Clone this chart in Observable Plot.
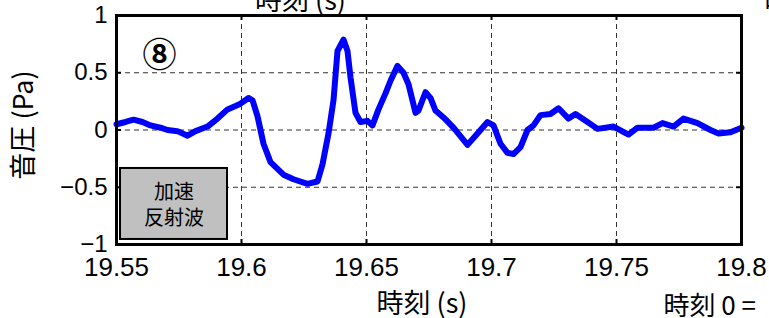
<!DOCTYPE html>
<html>
<head>
<meta charset="utf-8">
<script src="https://cdn.jsdelivr.net/npm/d3@7"></script>
<script src="https://cdn.jsdelivr.net/npm/@observablehq/plot@0.6"></script>
<style>
  html, body { margin: 0; padding: 0; background: white; }
  #chart { width: 769px; height: 318px; overflow: hidden; }
</style>
</head>
<body>
<div id="chart"></div>
<script>
// Time (s)
const times = [
  19.5500, 19.5536, 19.5568, 19.5604, 19.5636, 19.5676, 19.5704, 19.5744, 19.5784, 19.5816,
  19.5864, 19.5904, 19.5944, 19.5976, 19.5996, 19.6028, 19.6044, 19.6064, 19.6088, 19.6116,
  19.6168, 19.6208, 19.6264, 19.6304, 19.6324, 19.6348, 19.6368, 19.6384, 19.6408, 19.6424,
  19.6436, 19.6456, 19.6476, 19.6504, 19.6524, 19.6548, 19.6576, 19.6596, 19.6624, 19.6648,
  19.6668, 19.6696, 19.6708, 19.6736, 19.6756, 19.6776, 19.6808, 19.6848, 19.6904, 19.6944,
  19.6984, 19.7008, 19.7036, 19.7064, 19.7088, 19.7116, 19.7144, 19.7168, 19.7196, 19.7236,
  19.7268, 19.7308, 19.7336, 19.7384, 19.7424, 19.7488, 19.7548, 19.7584, 19.7648, 19.7684,
  19.7728, 19.7768, 19.7824, 19.7876, 19.7908, 19.7956, 19.8000
];
// Sound pressure (Pa)
const pressure = [
  0.05, 0.07, 0.09, 0.07, 0.04, 0.02, 0.00, -0.01, -0.05, -0.01,
  0.03, 0.10, 0.18, 0.21, 0.23, 0.28, 0.26, 0.12, -0.12, -0.28,
  -0.39, -0.43, -0.47, -0.45, -0.30, -0.03, 0.26, 0.69, 0.79, 0.69,
  0.46, 0.15, 0.07, 0.08, 0.04, 0.18, 0.32, 0.43, 0.56, 0.50,
  0.40, 0.15, 0.17, 0.33, 0.28, 0.17, 0.11, 0.02, -0.13, -0.03,
  0.07, 0.04, -0.12, -0.20, -0.21, -0.15, 0.00, 0.04, 0.13, 0.14,
  0.19, 0.10, 0.14, 0.07, 0.01, 0.03, -0.04, 0.02, 0.02, 0.06,
  0.03, 0.10, 0.06, 0.00, -0.03, -0.02, 0.02
];
const xTicks = [19.55, 19.6, 19.65, 19.7, 19.75, 19.8];
const xTickLabels = ["19.55", "19.6", "19.65", "19.7", "19.75", "19.8"];
const yTicks = [-1, -0.5, 0, 0.5, 1];
const yTickLabels = ["\u22121", "\u22120.5", "0", "0.5", "1"];

const xTitle = "時刻 (s)";
const yTitle = "音圧 (Pa)";
const panelLabel = "⑧";
const boxLabel = "加速\n反射波";
const boxExtent = {x1: 19.5516, x2: 19.5944, y1: -0.956, y2: -0.336};
const topClipped = "時刻 (s)";
const topRightClipped = "時刻 (s)";
const bottomRightClipped = "時刻 0 = ";

const data = times.map((t, i) => ({t, p: pressure[i]}));

const numFont = "'Liberation Sans', Arial, sans-serif";
const cjkFont = "'Noto Sans CJK JP', 'Liberation Sans', sans-serif";

const chart = Plot.plot({
  width: 769,
  height: 318,
  marginLeft: 116,
  marginRight: 28,
  marginTop: 15,
  marginBottom: 74,
  x: {domain: [19.55, 19.8]},
  y: {domain: [-1, 1]},
  style: {background: "white", fontFamily: numFont, color: "black"},
  marks: [
    Plot.gridX(xTicks, {stroke: "#333", strokeOpacity: 1, strokeWidth: 1, strokeDasharray: "5,4"}),
    Plot.gridY(yTicks, {stroke: "#333", strokeOpacity: 1, strokeWidth: 1, strokeDasharray: "5,4"}),
    // inward ticks
    Plot.tickX(xTicks, {x: d => d, insetTop: 224, stroke: "black", strokeWidth: 2}),
    Plot.tickX(xTicks, {x: d => d, insetBottom: 224, stroke: "black", strokeWidth: 2}),
    Plot.tickY(yTicks, {y: d => d, insetRight: 620, stroke: "black", strokeWidth: 2}),
    Plot.tickY(yTicks, {y: d => d, insetLeft: 620, stroke: "black", strokeWidth: 2}),
    Plot.line(data, {x: "t", y: "p", stroke: "#0000ff", strokeWidth: 6, strokeLinejoin: "round", strokeLinecap: "round"}),
    Plot.frame({stroke: "black", strokeWidth: 3}),
    Plot.rect([boxExtent], {x1: "x1", x2: "x2", y1: "y1", y2: "y2", fill: "#c0c0c0", stroke: "black", strokeWidth: 2}),
    Plot.text([boxLabel], {
      x: d => (boxExtent.x1 + boxExtent.x2) / 2, y: d => (boxExtent.y1 + boxExtent.y2) / 2,
      text: d => d, fontSize: 20, lineHeight: 1.3, fontFamily: cjkFont, fill: "black", textAnchor: "middle", lineAnchor: "middle"
    }),
    Plot.text([panelLabel], {
      frameAnchor: "top-left", text: d => d, dx: 43, dy: 41,
      fontSize: 34, fontWeight: "bold", fontFamily: cjkFont, fill: "black", textAnchor: "middle", lineAnchor: "middle"
    }),
    Plot.axisX(xTicks, {
      tickSize: 0, tickPadding: 13, fontSize: 26, fontFamily: numFont, fill: "black",
      tickFormat: (d, i) => xTickLabels[i], label: null
    }),
    Plot.axisY(yTicks, {
      tickSize: 0, tickPadding: 9, fontSize: 24, fontFamily: numFont, fill: "black",
      tickFormat: (d, i) => yTickLabels[i], label: null
    }),
    Plot.text([xTitle], {
      frameAnchor: "bottom", text: d => d, dx: -7, dy: 68,
      fontSize: 27, fontFamily: cjkFont, fill: "black", textAnchor: "middle", lineAnchor: "bottom"
    }),
    Plot.text([yTitle], {
      frameAnchor: "left", text: d => d, dx: -92, dy: -5, rotate: -90,
      fontSize: 27, fontFamily: cjkFont, fill: "black", textAnchor: "middle", lineAnchor: "middle"
    }),
    Plot.text([topClipped], {
      frameAnchor: "top", text: d => d, dx: -128.5, dy: -6,
      fontSize: 27, fontFamily: cjkFont, fill: "black", textAnchor: "middle", lineAnchor: "bottom"
    }),
    Plot.text([topRightClipped], {
      frameAnchor: "top-right", text: d => d, dx: 23, dy: -6,
      fontSize: 27, fontFamily: cjkFont, fill: "black", textAnchor: "start", lineAnchor: "bottom"
    }),
    Plot.text([bottomRightClipped], {
      frameAnchor: "bottom-right", text: d => d, dx: -78, dy: 70,
      fontSize: 26, fontFamily: cjkFont, fill: "black", textAnchor: "start", lineAnchor: "bottom"
    })
  ]
});
document.getElementById("chart").appendChild(chart);
</script>
</body>
</html>
